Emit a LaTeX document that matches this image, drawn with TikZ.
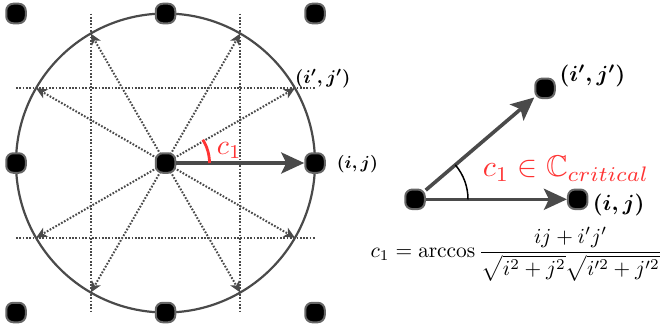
\documentclass[tikz,border=0pt]{standalone}
\usepackage{amsmath,amssymb}
\usepackage{graphicx}
\usetikzlibrary{arrows.meta,calc}
\definecolor{lgray}{HTML}{4A4A4A}
\definecolor{dotgray}{HTML}{666666}
\definecolor{myred}{HTML}{FF3333}
\tikzset{
  pt/.style={rectangle, rounded corners=7pt, minimum size=19.5pt, inner sep=0pt,
    fill=black, draw=dotgray, line width=2pt},
  thickarrow/.style={draw=lgray, line width=3.6pt,
    -{Stealth[length=23pt,width=21pt,inset=5pt]}},
  dotarrow/.style={draw=lgray, line width=2pt, dash pattern=on 1.7pt off 1.6pt,
    -{Stealth[length=11pt,width=10pt,inset=3pt]}},
  gridline/.style={draw=lgray, line width=2pt, dash pattern=on 1.7pt off 1.6pt},
  lbl/.style={inner sep=0pt},
}
\begin{document}
\begin{tikzpicture}[x=1pt,y=1pt]
\useasboundingbox (0,0) rectangle (663,333);
% ---------- left figure ----------
\coordinate (C0) at (165.5,170);
% dotted grid lines
\coordinate (v1t) at (90.75,319.5);  \coordinate (v1b) at (90.75,20.5);
\coordinate (v2t) at (240.25,319.5); \coordinate (v2b) at (240.25,20.5);
\coordinate (h1l) at (16,244.75);    \coordinate (h1r) at (315,244.75);
\coordinate (h2l) at (16,95.25);     \coordinate (h2r) at (315,95.25);
\draw[gridline] (v1t) -- (v1b);
\draw[gridline] (v2t) -- (v2b);
\draw[gridline] (h1l) -- (h1r);
\draw[gridline] (h2l) -- (h2r);
% circle
\draw[lgray, line width=2.2pt] (C0) circle[radius=149.5];
% dotted arrows
\foreach \a in {30,60,120,150,210,240,300,330}{
  \coordinate (e\a) at ($(C0)+(\a:149.5)$);
  \draw[dotarrow] (C0) -- (e\a);
}
% grid points
\node[pt] (p11) at (16,319.5) {};
\node[pt] (p12) at (165.5,319.5) {};
\node[pt] (p13) at (315,319.5) {};
\node[pt] (p21) at (16,170) {};
\node[pt] (c)   at (165.5,170) {};
\node[pt] (r)   at (315,170) {};
\node[pt] (p31) at (16,20.5) {};
\node[pt] (p32) at (165.5,20.5) {};
\node[pt] (p33) at (315,20.5) {};
\draw[thickarrow] (c) -- (r);
% red angle
\draw[myred, line width=2.8pt] ($(C0)+(0:44)$) arc[start angle=0, end angle=32, radius=44];
\node[lbl, anchor=base west, text=myred] (c1l) at (216.7,178.7) {\scalebox{2.8}{$c_1$}};
\node[lbl, anchor=west] (ijp) at (295,254) {\scalebox{1.85}{\boldmath$(i', j')$}};
\node[lbl, anchor=west] (ij) at (336.7,169) {\scalebox{1.75}{\boldmath$(i, j)$}};
% ---------- right figure ----------
\node[pt] (o) at (415,133.7) {};
\node[pt] (a) at (545,244.7) {};
\node[pt] (b) at (577.7,133.7) {};
\draw[thickarrow] (o) -- (a);
\draw[thickarrow] (o) -- (b);
\draw[black, line width=1.5pt] ($(o.center)+(0:53)$) arc[start angle=0, end angle=40.5, radius=53];
\node[lbl, anchor=base west, text=myred] (crit) at (482.7,156.3) {\scalebox{3.0}{$c_1\in\mathbb{C}_{critical}$}};
\node[lbl, anchor=west] (ap) at (559.3,257.3) {\scalebox{2.2}{\boldmath$(i', j')$}};
\node[lbl, anchor=west] (bp) at (592.7,128.3) {\scalebox{2.2}{\boldmath$(i, j)$}};
\node[lbl, anchor=base west] (form) at (370.5,75.5)
  {\scalebox{2.14}{$\displaystyle c_1=\arccos\frac{ij+i'j'}{\sqrt{i^2+j^2}\sqrt{i'^2+j'^2}}$}};
\end{tikzpicture}
\end{document}
